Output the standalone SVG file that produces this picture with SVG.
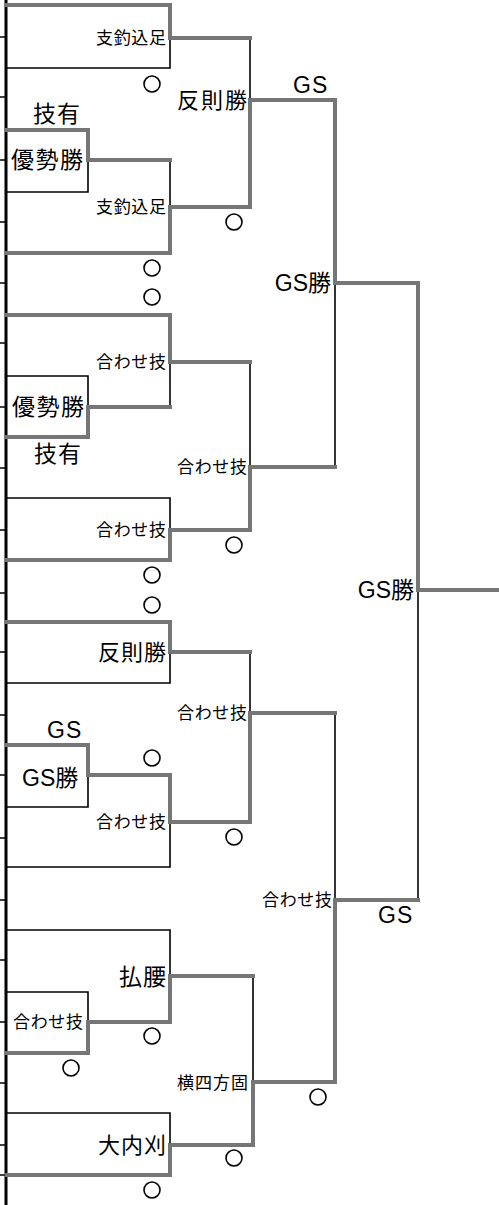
<svg xmlns="http://www.w3.org/2000/svg" width="499" height="1205" viewBox="0 0 499 1205">
<style>
.w{fill:none;stroke:#767676;stroke-width:4;stroke-linejoin:miter;stroke-linecap:square}
.l{fill:none;stroke:#000;stroke-width:1.6;stroke-linecap:square}
.t{fill:#000;font-family:"Liberation Sans","Noto Sans CJK JP",sans-serif}
.s{font-size:17px}
.m{font-size:22px}
.b{font-size:23px}
.g{font-size:23px;letter-spacing:1px}
.e{text-anchor:end}
.o{fill:none;stroke:#000;stroke-width:1.6}
</style>
<rect width="499" height="1205" fill="#fff"/>
<g id="spine">
<line x1="6" y1="0" x2="6" y2="1205" stroke="#000" stroke-width="3"/>
<path class="l" d="M0,37H6M0,97H6M0,160H6M0,222H6M0,283H6M0,343H6M0,407H6M0,468H6M0,530H6M0,593H6M0,652H6M0,715H6M0,775H6M0,838H6M0,900H6M0,960H6M0,1022H6M0,1083H6M0,1145H6M0,1175H4"/>
</g>
<g id="connectors">
<path class="l" d="M6,68H170V38"/>
<path class="l" d="M6,192H88V160"/>
<path class="l" d="M170,160V207"/>
<path class="l" d="M250,38V100"/>
<path class="l" d="M335,467V283"/>
<path class="l" d="M6,376H88V407"/>
<path class="l" d="M170,407V362"/>
<path class="l" d="M6,498H170V530"/>
<path class="l" d="M250,362V467"/>
<path class="l" d="M6,683H170V652"/>
<path class="l" d="M6,807H88V775"/>
<path class="l" d="M6,867H170V822"/>
<path class="l" d="M250,652V713"/>
<path class="l" d="M6,930H170V976"/>
<path class="l" d="M6,992H88V1022"/>
<path class="l" d="M6,1113H170V1145"/>
<path class="l" d="M253,976V1082"/>
<path class="l" d="M335,713V900"/>
<path class="l" d="M418,900V590"/>
<path class="w" d="M7,5H170V38H250"/>
<path class="w" d="M7,130H88V160H170"/>
<path class="w" d="M7,253H170V207H250"/>
<path class="w" d="M250,207V100H335"/>
<path class="w" d="M335,100V283H418"/>
<path class="w" d="M7,315H170V362H250"/>
<path class="w" d="M7,437H88V407H170"/>
<path class="w" d="M7,560H170V530H250"/>
<path class="w" d="M250,530V467H335"/>
<path class="w" d="M7,622H170V652H250"/>
<path class="w" d="M7,745H88V775H170V822H250"/>
<path class="w" d="M250,822V713H335"/>
<path class="w" d="M7,1053H88V1022H170V976H253"/>
<path class="w" d="M7,1175H170V1145H253"/>
<path class="w" d="M253,1145V1082H335"/>
<path class="w" d="M335,1082V900H418"/>
<path class="w" d="M418,283V590H499"/>
</g>
<g id="n1">
<text class="t s e" x="166" y="44" textLength="70" lengthAdjust="spacing">支釣込足</text>
<circle class="o" cx="152" cy="84" r="8"/>
</g>
<g id="n2">
<text class="t b" x="33" y="122" textLength="47" lengthAdjust="spacing">技有</text>
<text class="t b" x="11" y="168" textLength="72" lengthAdjust="spacing">優勢勝</text>
</g>
<g id="n3">
<text class="t s e" x="166" y="213" textLength="70" lengthAdjust="spacing">支釣込足</text>
<circle class="o" cx="152" cy="268" r="8"/>
<circle class="o" cx="152" cy="297" r="8"/>
</g>
<g id="n4">
<text class="t m e" x="247" y="108" textLength="70" lengthAdjust="spacing">反則勝</text>
<text class="t g" x="293" y="93">GS</text>
<circle class="o" cx="234" cy="222" r="8"/>
</g>
<g id="n5">
<text class="t b e" x="331" y="291">GS勝</text>
</g>
<g id="n6">
<text class="t s e" x="166" y="368" textLength="70" lengthAdjust="spacing">合わせ技</text>
<text class="t b" x="12" y="415" textLength="72" lengthAdjust="spacing">優勢勝</text>
<text class="t b" x="34" y="462" textLength="47" lengthAdjust="spacing">技有</text>
</g>
<g id="n7">
<text class="t s e" x="166" y="536" textLength="70" lengthAdjust="spacing">合わせ技</text>
<circle class="o" cx="152" cy="575" r="8"/>
<circle class="o" cx="152" cy="605" r="8"/>
</g>
<g id="n8">
<text class="t s e" x="247" y="473" textLength="70" lengthAdjust="spacing">合わせ技</text>
<circle class="o" cx="234" cy="545" r="8"/>
</g>
<g id="n9">
<text class="t m e" x="166" y="660" textLength="68" lengthAdjust="spacing">反則勝</text>
<text class="t g" x="47" y="738">GS</text>
<circle class="o" cx="152" cy="758" r="8"/>
</g>
<g id="n10">
<text class="t b" x="22" y="786">GS勝</text>
<text class="t s e" x="166" y="828" textLength="70" lengthAdjust="spacing">合わせ技</text>
</g>
<g id="n11">
<text class="t s e" x="247" y="719" textLength="70" lengthAdjust="spacing">合わせ技</text>
<circle class="o" cx="234" cy="837" r="8"/>
</g>
<g id="n12">
<text class="t b e" x="166" y="985" textLength="47" lengthAdjust="spacing">払腰</text>
<text class="t s" x="13" y="1028" textLength="70" lengthAdjust="spacing">合わせ技</text>
<circle class="o" cx="152" cy="1036" r="8"/>
<circle class="o" cx="71" cy="1068" r="8"/>
</g>
<g id="n13">
<text class="t m e" x="166" y="1153" textLength="68" lengthAdjust="spacing">大内刈</text>
<circle class="o" cx="152" cy="1190" r="8"/>
</g>
<g id="n14">
<text class="t s e" x="248" y="1089" textLength="71" lengthAdjust="spacing">横四方固</text>
<circle class="o" cx="234" cy="1158" r="8"/>
</g>
<g id="n15">
<text class="t s e" x="332" y="906" textLength="70" lengthAdjust="spacing">合わせ技</text>
<text class="t g" x="378" y="923">GS</text>
<circle class="o" cx="318" cy="1097" r="8"/>
</g>
<g id="n16">
<text class="t b e" x="414" y="598">GS勝</text>
</g>
</svg>
